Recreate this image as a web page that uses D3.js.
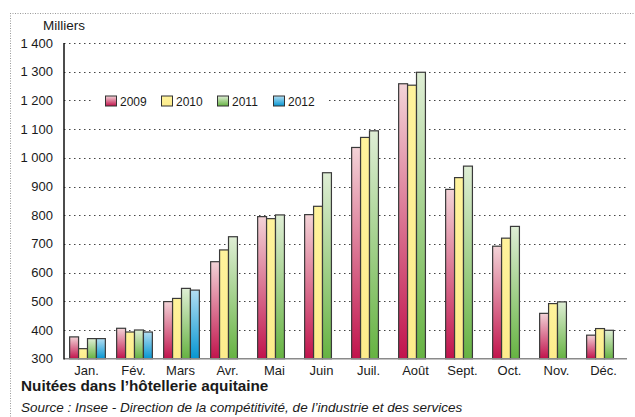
<!DOCTYPE html>
<html>
<head>
<meta charset="utf-8">
<script src="https://cdn.jsdelivr.net/npm/d3@7"></script>
<style>
  body { margin: 0; background: #fff; }
  svg text { font-family: "Liberation Sans", Arial, sans-serif; fill: #1a1a1a; }
  .grid line { stroke: #444; stroke-width: 1; stroke-dasharray: 1.5,3.5; }
  .bar { stroke: #3a3a3a; stroke-width: 1.2; }
</style>
</head>
<body>
<svg id="chart" width="635" height="417"></svg>
<script>
const months = ["Jan.", "Fév.", "Mars", "Avr.", "Mai", "Juin", "Juil.", "Août", "Sept.", "Oct.", "Nov.", "Déc."];
const years = ["2009", "2010", "2011", "2012"];
const v2009 = [376, 406, 499, 638, 795, 802, 1036, 1258, 890, 692, 458, 382];
const v2010 = [335, 393, 510, 679, 788, 831, 1071, 1253, 931, 720, 492, 405];
const v2011 = [370, 400, 545, 725, 801, 948, 1094, 1298, 971, 761, 498, 399];
const v2012 = [370, 393, 539, null, null, null, null, null, null, null, null, null];
const yTicks = [300, 400, 500, 600, 700, 800, 900, 1000, 1100, 1200, 1300, 1400];

const series = [v2009, v2010, v2011, v2012];
const colors = {
  "2009": ["#f3d3d7", "#c1134c"],
  "2010": ["#fff39c", "#fdec8c"],
  "2011": ["#dfeed5", "#66b342"],
  "2012": ["#b3def2", "#0696d2"]
};

const svg = d3.select("#chart");
const plotLeft = 64, plotRight = 628, plotTop = 43, plotBottom = 358.7;

const fmt = d3.formatLocale({decimal: ",", thousands: " ", grouping: [3], currency: ["", " €"]}).format(",d");

// gradients, one per series
const defs = svg.append("defs");
years.forEach(yr => {
  const g = defs.append("linearGradient")
    .attr("id", "g" + yr)
    .attr("x1", 0).attr("y1", 0).attr("x2", 0).attr("y2", 1);
  g.append("stop").attr("offset", "0%").attr("stop-color", colors[yr][0]);
  g.append("stop").attr("offset", "100%").attr("stop-color", colors[yr][1]);
});

// dotted frame
svg.append("line").attr("x1", 10).attr("x2", 635).attr("y1", 13.5).attr("y2", 13.5)
  .attr("stroke", "#999").attr("stroke-dasharray", "1,1.5");
svg.append("line").attr("x1", 10.5).attr("x2", 10.5).attr("y1", 13).attr("y2", 417)
  .attr("stroke", "#999").attr("stroke-dasharray", "1,1.5");

const x = d3.scaleBand().domain(months).range([plotLeft, plotRight]).paddingInner(0.24).paddingOuter(0.12);
const x1 = d3.scaleBand().domain(years).range([0, x.bandwidth()]);
const y = d3.scaleLinear().domain([300, 1400]).range([plotBottom, plotTop]);

// grid
svg.append("g").attr("class", "grid")
  .selectAll("line")
  .data(yTicks.filter(d => d > 300))
  .join("line")
  .attr("x1", plotLeft).attr("x2", plotRight)
  .attr("y1", d => Math.round(y(d)) + 0.5).attr("y2", d => Math.round(y(d)) + 0.5);

// y labels
svg.append("g")
  .selectAll("text")
  .data(yTicks)
  .join("text")
  .attr("x", 53).attr("y", d => y(d))
  .attr("dy", "0.35em")
  .attr("text-anchor", "end")
  .attr("font-size", 13)
  .text(d => fmt(d));

svg.append("text").attr("x", 43).attr("y", 30).attr("font-size", 13.5).text("Milliers");

// bars
const bars = [];
months.forEach((m, i) => {
  years.forEach((yr, j) => {
    const v = series[j][i];
    if (v != null) bars.push({month: m, year: yr, value: v});
  });
});

svg.append("g")
  .selectAll("rect")
  .data(bars)
  .join("rect")
  .attr("class", "bar")
  .attr("x", d => x(d.month) + x1(d.year))
  .attr("width", x1.bandwidth())
  .attr("y", d => y(d.value))
  .attr("height", d => plotBottom - y(d.value))
  .attr("fill", d => "url(#g" + d.year + ")");

// axes lines
svg.append("line").attr("x1", plotLeft).attr("x2", plotRight - 1).attr("y1", plotBottom).attr("y2", plotBottom)
  .attr("stroke", "#8a8a8a").attr("stroke-width", 1.5);
svg.append("line").attr("x1", plotLeft).attr("x2", plotLeft).attr("y1", plotTop).attr("y2", plotBottom + 0.7)
  .attr("stroke", "#111").attr("stroke-width", 1.5);

// month labels
svg.append("g")
  .selectAll("text")
  .data(months)
  .join("text")
  .attr("x", d => x(d) + x.bandwidth() / 2 - 1)
  .attr("y", 374.5)
  .attr("text-anchor", "middle")
  .attr("font-size", 13)
  .text(d => d);

// legend
const legend = svg.append("g").attr("transform", "translate(92,92)");
legend.append("rect").attr("x", 0).attr("y", 0).attr("width", 234).attr("height", 16).attr("fill", "#fff");
const li = legend.selectAll("g.item").data(years).join("g")
  .attr("class", "item")
  .attr("transform", (d, i) => `translate(${13.5 + i * 56},4)`);
li.append("rect")
  .attr("width", 11).attr("height", 10)
  .attr("fill", d => "url(#g" + d + ")")
  .attr("stroke", "#333").attr("stroke-width", 1);
li.append("text")
  .attr("x", 14.5).attr("y", 9.5)
  .attr("font-size", 12)
  .text(d => d);

// title and source
svg.append("text").attr("x", 21).attr("y", 391).attr("font-size", 15.3).attr("font-weight", "bold")
  .text("Nuitées dans l’hôtellerie aquitaine");
svg.append("text").attr("x", 21).attr("y", 412).attr("font-size", 13.5).attr("font-style", "italic")
  .text("Source : Insee - Direction de la compétitivité, de l’industrie et des services");
</script>
</body>
</html>
